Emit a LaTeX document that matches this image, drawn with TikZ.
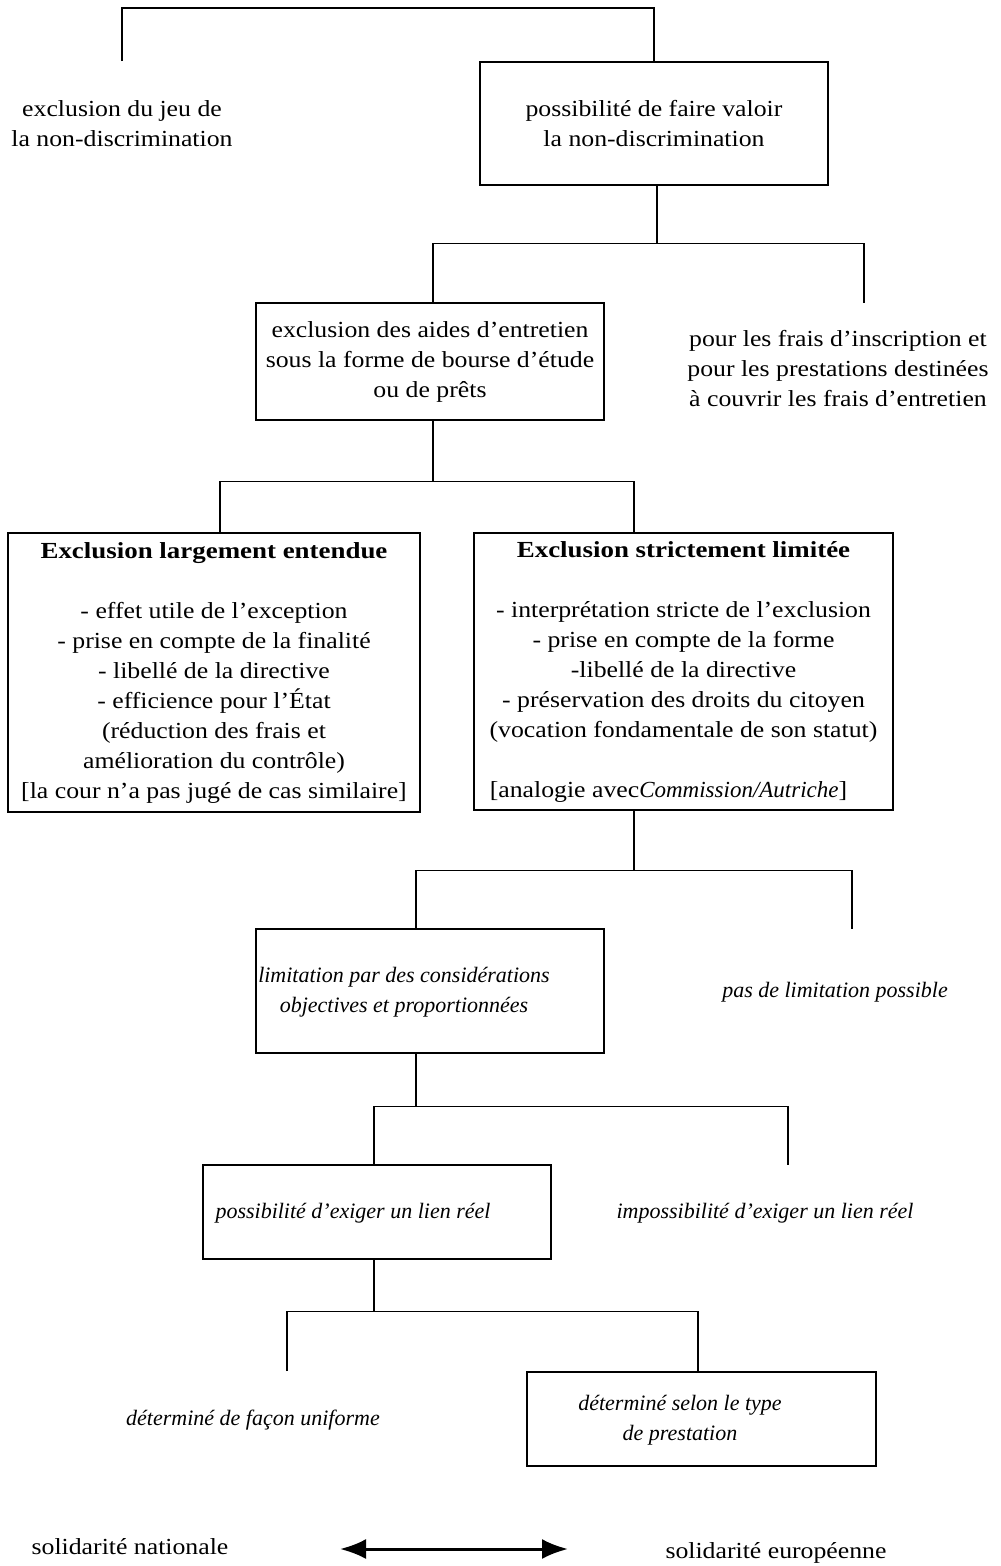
\documentclass[tikz,border=0pt]{standalone}
\usepackage{fontspec}
\setmainfont{Liberation Serif}[UprightFeatures={FakeStretch=1.12},
    BoldFeatures={FakeStretch=1.17}]
\usetikzlibrary{arrows.meta}

\begin{document}
\begin{tikzpicture}[x=1pt, y=-1pt, line width=1.4pt,
        every node/.style={font=\fontsize{23}{30}\selectfont, inner sep=0pt},
        box/.style={draw, rectangle, align=center},
        free/.style={align=center},
        note/.style={align=center, font=\fontsize{22}{30}\selectfont\itshape}]
        \useasboundingbox (0,0) rectangle (1001,1566);

        % Draw the first level
        \node[box, minimum width=348pt, minimum height=123pt] (b1) at (654,123.5)
            {possibilité de faire valoir\\la non-discrimination};
        \node[free] (lt1) at (122,124) {exclusion du jeu de\\la non-discrimination};
        \coordinate (t1) at (122,61);
        \draw (t1) -- ++(0,-53) -| (b1.north);

        % Second level
        \node[box, minimum width=348pt, minimum height=117pt] (b2) at (430,361.5)
            {exclusion des aides d'entretien\\sous la forme de bourse d'étude\\ou de prêts};
        \node[free] (rt2) at (838,369)
            {pour les frais d'inscription et\\pour les prestations destinées\\à couvrir les frais d'entretien};
        \coordinate (f2) at (864,303);
        \draw ([xshift=3pt]b1.south) -- ++(0,58) coordinate (j1);
        \draw ([xshift=3pt]b2.north) |- (j1) -| (f2);

        % Third level
        \node[box, minimum width=412pt, minimum height=279pt] (b3) at (214,672.5)
            {\textbf{Exclusion largement entendue}\\[30pt]
             - effet utile de l'exception\\
             - prise en compte de la finalité\\
             - libellé de la directive\\
             - efficience pour l'État\\
             (réduction des frais et\\
             amélioration du contrôle)\\
             {[}la cour n'a pas jugé de cas similaire{]}};
        \node[box, minimum width=419pt, minimum height=277pt] (b4) at (683.5,671.5)
            {\textbf{Exclusion strictement limitée}\\[30pt]
             - interprétation stricte de l'exclusion\\
             - prise en compte de la forme\\
             -libellé de la directive\\
             - préservation des droits du citoyen\\
             (vocation fondamentale de son statut)\\[30pt]
             {[}analogie avec\textit{Commission/Autriche}{]}\hspace*{30pt}};
        \draw ([xshift=3pt]b2.south) -- ++(0,61) coordinate (j2);
        \draw ([xshift=6pt]b3.north) |- (j2) -| ([xshift=-49.5pt]b4.north);

        % Fourth level
        \node[box, minimum width=348pt, minimum height=124pt] (b5) at (430,991) {};
        \node[note] (t5) at (404,992)
            {limitation par des considérations\\objectives et proportionnées};
        \node[note] (rt5) at (835,992) {pas de limitation possible};
        \coordinate (f5) at (852,929);
        \draw ([xshift=-49.5pt]b4.south) -- ++(0,60) coordinate (j3);
        \draw ([xshift=-14pt]b5.north) |- (j3) -| (f5);

        % Fifth level
        \node[box, minimum width=348pt, minimum height=94pt] (b6) at (377,1212) {};
        \node[note] (t6) at (353,1213) {possibilité d'exiger un lien réel};
        \node[note] (rt6) at (765,1213) {impossibilité d'exiger un lien réel};
        \coordinate (f6) at (788,1165);
        \draw ([xshift=-14pt]b5.south) -- ++(0,53) coordinate (j4);
        \draw ([xshift=-3pt]b6.north) |- (j4) -| (f6);

        % Sixth level
        \node[box, minimum width=349pt, minimum height=94pt] (b7) at (701.5,1419) {};
        \node[note] (t7) at (680,1420) {déterminé selon le type\\de prestation};
        \node[note] (lt7) at (253,1420) {déterminé de façon uniforme};
        \coordinate (f7) at (287,1371);
        \draw ([xshift=-3pt]b6.south) -- ++(0,52) coordinate (j5);
        \draw (f7) |- (j5) -| ([xshift=-3.5pt]b7.north);

        % Solidarity arrow
        \node[free] (s1) at (130,1547) {solidarité nationale};
        \node[free] (s2) at (776,1553) {solidarité européenne};
        \coordinate (a1) at (340,1549);
        \coordinate (a2) at (568,1549);
        \draw[{Latex[length=26pt,width=20pt]}-{Latex[length=26pt,width=20pt]}, line width=3pt] (a1) -- (a2);
\end{tikzpicture}
\end{document}
